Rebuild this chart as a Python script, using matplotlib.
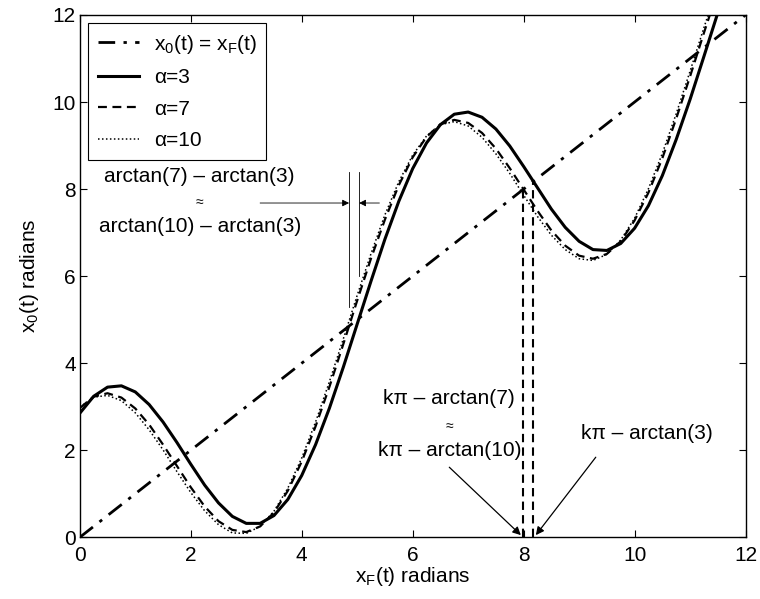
import matplotlib
matplotlib.use("Agg")
import matplotlib.pyplot as plt

plt.rcParams['font.family'] = ['Liberation Sans', 'DejaVu Sans']
plt.rcParams['mathtext.fontset'] = 'custom'
plt.rcParams['mathtext.rm'] = 'Liberation Sans'
plt.rcParams['mathtext.it'] = 'Liberation Sans'

# x_F values (radians)
xf = [0.0, 0.25, 0.5, 0.75, 1.0, 1.25, 1.5, 1.75, 2.0, 2.25, 2.5, 2.75, 3.0, 3.25,
      3.5, 3.75, 4.0, 4.25, 4.5, 4.75, 5.0, 5.25, 5.5, 5.75, 6.0, 6.25, 6.5, 6.75,
      7.0, 7.25, 7.5, 7.75, 8.0, 8.25, 8.5, 8.75, 9.0, 9.25, 9.5, 9.75, 10.0, 10.25,
      10.5, 10.75, 11.0, 11.25, 11.5]

x0_a3 = [2.85, 3.24, 3.45, 3.48, 3.34, 3.05, 2.65, 2.18, 1.68, 1.20, 0.79, 0.48, 0.32, 0.32,
         0.50, 0.87, 1.42, 2.13, 2.97, 3.91, 4.90, 5.89, 6.85, 7.72, 8.47, 9.06, 9.48, 9.72,
         9.77, 9.65, 9.38, 8.99, 8.52, 8.03, 7.54, 7.12, 6.80, 6.61, 6.59, 6.75, 7.10, 7.62,
         8.31, 9.14, 10.06, 11.05, 12.05]

x0_a7 = [2.97, 3.23, 3.31, 3.21, 2.96, 2.59, 2.13, 1.64, 1.15, 0.71, 0.37, 0.17, 0.12, 0.25,
         0.57, 1.07, 1.74, 2.55, 3.46, 4.44, 5.44, 6.41, 7.30, 8.09, 8.73, 9.20, 9.49, 9.59,
         9.52, 9.29, 8.93, 8.48, 7.99, 7.50, 7.05, 6.70, 6.47, 6.40, 6.51, 6.80, 7.28, 7.92,
         8.71, 9.62, 10.59, 11.59, 12.56]

x0_a10 = [2.99, 3.22, 3.26, 3.14, 2.86, 2.47, 2.01, 1.51, 1.03, 0.61, 0.29, 0.10, 0.09, 0.25,
          0.60, 1.13, 1.82, 2.65, 3.58, 4.56, 5.56, 6.52, 7.41, 8.17, 8.78, 9.22, 9.48, 9.55,
          9.45, 9.19, 8.81, 8.36, 7.86, 7.37, 6.94, 6.61, 6.40, 6.36, 6.50, 6.83, 7.33, 8.01,
          8.82, 9.73, 10.71, 11.71, 12.68]

diag = [0, 12]

# crossing points k*pi - arctan(alpha)
cross_lo = [4.854, 5.034]    # 2pi - arctan(7), 2pi - arctan(3)
cross_hi = [7.996, 8.176]    # 3pi - arctan(7), 3pi - arctan(3)

FS = 15

fig = plt.figure(figsize=(7.6, 5.99), dpi=100)
ax = fig.add_axes([0.105, 0.103, 0.876, 0.872])

ax.plot(diag, diag, color='k', lw=2.0, dashes=(6, 3, 1.2, 3), label='x$_0$(t) = x$_F$(t)')
ax.plot(xf, x0_a3, color='k', lw=2.2, label='α=3')
ax.plot(xf, x0_a7, color='k', lw=1.6, dashes=(4, 2.5), label='α=7')
ax.plot(xf, x0_a10, color='k', lw=1.1, dashes=(1, 1.6), label='α=10')

# thin markers at the first crossings
ax.plot([cross_lo[0], cross_lo[0]], [5.3, 8.4], color='k', lw=0.6)
ax.plot([cross_lo[1], cross_lo[1]], [6.0, 8.4], color='k', lw=0.6)
arr = dict(arrowstyle='-|>', color='k', lw=0.6, shrinkA=0, shrinkB=0, mutation_scale=10)
ax.annotate('', xy=(cross_lo[0], 7.68), xytext=(3.25, 7.68), arrowprops=arr)
ax.annotate('', xy=(cross_lo[1], 7.68), xytext=(5.4, 7.68), arrowprops=arr)
ax.text(2.16, 8.3, 'arctan(7) – arctan(3)', ha='center', va='center', fontsize=FS)
ax.text(2.16, 7.7, '≈', ha='center', va='center', fontsize=10)
ax.text(2.16, 7.15, 'arctan(10) – arctan(3)', ha='center', va='center', fontsize=FS)

# dashed drops at the second crossings
ax.plot([cross_hi[0], cross_hi[0]], [0, cross_hi[0]], color='k', lw=1.5, dashes=(4, 2.5))
ax.plot([cross_hi[1], cross_hi[1]], [0, cross_hi[1]], color='k', lw=1.5, dashes=(4, 2.5))
arr2 = dict(arrowstyle='-|>', color='k', lw=0.9, shrinkA=0, shrinkB=0, mutation_scale=12)
ax.annotate('', xy=(7.95, 0.05), xytext=(6.66, 1.61), arrowprops=arr2)
ax.annotate('', xy=(8.22, 0.05), xytext=(9.3, 1.84), arrowprops=arr2)
ax.text(6.66, 3.2, 'kπ – arctan(7)', ha='center', va='center', fontsize=FS)
ax.text(6.66, 2.55, '≈', ha='center', va='center', fontsize=10)
ax.text(6.66, 2.0, 'kπ – arctan(10)', ha='center', va='center', fontsize=FS)
ax.text(10.23, 2.39, 'kπ – arctan(3)', ha='center', va='center', fontsize=FS)

ax.set_xlim(0, 12)
ax.set_ylim(0, 12)
ax.set_xticks([0, 2, 4, 6, 8, 10, 12])
ax.set_yticks([0, 2, 4, 6, 8, 10, 12])
ax.tick_params(direction='in', top=True, right=True, length=5, labelsize=FS, width=0.8)
ax.tick_params(axis='x', pad=6)
ax.tick_params(axis='y', pad=3)
for s in ax.spines.values():
    s.set_linewidth(1.0)
ax.set_xlabel('x$_F$(t) radians', fontsize=FS, labelpad=0)
ax.set_ylabel('x$_0$(t) radians', fontsize=FS, labelpad=8)

leg = ax.legend(loc='upper left', fontsize=FS, fancybox=False, framealpha=1,
                edgecolor='k', handlelength=2.0, labelspacing=0.6,
                borderaxespad=0.4, handletextpad=0.7, borderpad=0.45)
leg.get_frame().set_linewidth(0.8)

fig.savefig('out.png', dpi=100)
